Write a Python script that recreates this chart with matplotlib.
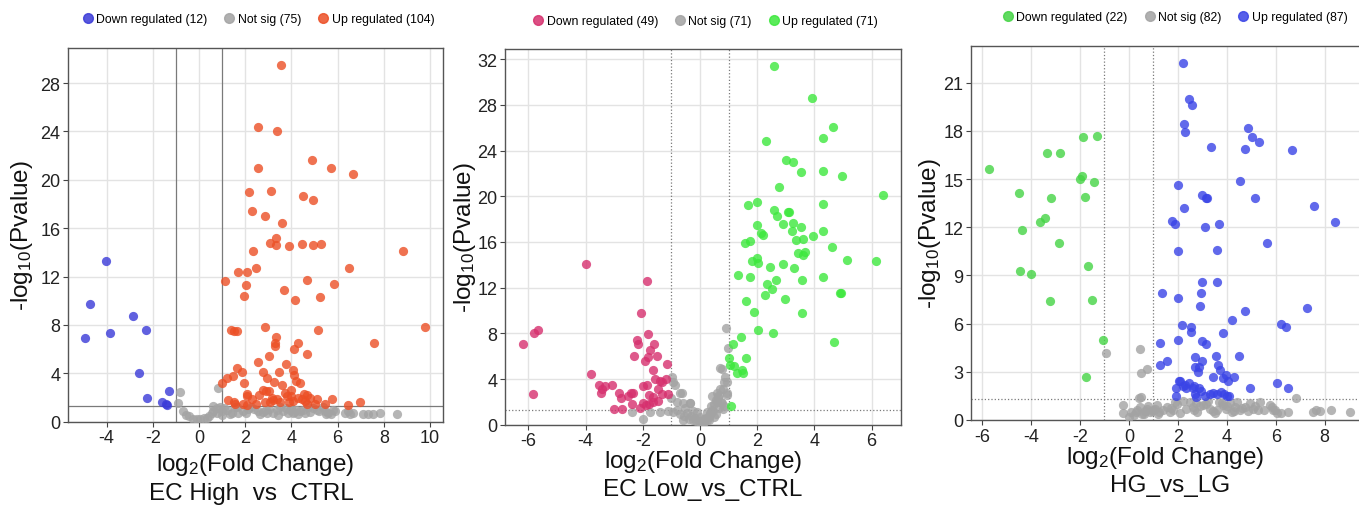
import matplotlib
matplotlib.use('Agg')
import matplotlib.pyplot as plt
from matplotlib.lines import Line2D

plt.rcParams['font.family'] = ['Liberation Sans', 'DejaVu Sans']
plt.rcParams['mathtext.default'] = 'regular'
plt.rcParams['axes.unicode_minus'] = False

# ---- panel 1 : EC High vs CTRL ----
down1_x = [-4.03, -4.72, -2.84, -4.95, -3.85, -2.31, -2.58, -2.25, -1.30, -1.62, -1.44, -1.37]
down1_y = [13.3, 9.7, 8.7, 6.9, 7.3, 7.6, 4.0, 1.95, 2.5, 1.65, 1.45, 1.4]

up1_x = [3.54, 2.54, 3.39, 2.54, 4.89, 5.70, 6.65, 2.15, 3.10, 4.50, 4.95, 2.28, 2.84, 3.61,
         3.35, 3.07, 3.33, 3.88, 4.47, 4.92, 5.30, 2.34, 8.82, 1.11, 1.67, 2.08, 2.48, 2.02, 1.93,
         3.68, 4.17, 4.66, 5.24, 5.83, 6.48,
         1.40, 1.50, 1.66, 2.84, 5.17, 9.80, 3.32, 3.28, 3.30, 4.27, 4.13, 4.68, 7.56, 3.03, 2.54,
         3.75, 1.66, 1.88, 2.75, 3.45, 4.08, 4.13, 1.20, 1.49, 1.01, 1.96, 3.25, 3.58, 4.20, 4.36,
         2.76, 2.89, 3.04, 2.06, 2.09, 3.71, 3.80, 4.53, 4.66, 3.97, 1.24, 1.52, 2.47, 2.86, 3.07,
         3.22, 3.36, 4.08, 4.30, 4.44, 4.81, 5.09, 5.76, 6.46, 6.98, 5.45, 1.56, 2.06, 3.51, 4.66,
         1.90, 2.30, 2.60, 3.15, 3.90, 4.00, 4.60, 5.00, 2.95]
up1_y = [29.5, 24.4, 24.0, 21.0, 21.6, 21.0, 20.5, 19.0, 19.1, 18.7, 18.3, 17.4, 17.0, 16.4,
         15.2, 14.8, 14.6, 14.5, 14.7, 14.6, 14.7, 14.1, 14.1, 11.6, 12.4, 12.4, 12.7, 11.3, 10.4,
         10.9, 10.1, 11.7, 10.3, 11.4, 12.7,
         7.6, 7.5, 7.5, 7.8, 7.6, 7.8, 7.0, 6.5, 6.3, 6.5, 6.0, 5.6, 6.5, 5.4, 4.9,
         4.8, 4.4, 4.1, 4.1, 4.1, 4.3, 3.9, 3.6, 3.8, 3.2, 3.2, 3.3, 3.0, 3.4, 3.2,
         2.6, 2.5, 2.5, 2.3, 2.1, 2.4, 2.1, 2.3, 2.2, 2.1, 1.8, 1.6, 1.5, 1.6, 1.6,
         1.8, 1.85, 1.7, 2.0, 1.85, 2.0, 1.9, 1.85, 1.4, 1.65, 1.5, 1.5, 1.4, 1.65, 1.5,
         1.5, 1.9, 2.2, 2.0, 1.6, 2.6, 1.7, 1.5, 3.6]

ns1_x = [-0.82, 0.84, -0.89, -0.68, -0.56, -0.25, 0.04, 0.33, 0.62, 0.76, 0.98, 1.34, 0.62, 0.91,
         1.70, 2.14, 2.38, 2.78, 2.93, 3.36, 3.65, 3.94, 4.11, 4.37, 4.81, 5.09, 5.45, 5.60, 5.82,
         6.46, 6.68, 7.11, 7.33, 7.55, 7.84, 8.56,
         -0.45, -0.1, 0.2, 0.45, 0.55, 0.8, 1.1, 1.2, 1.45, 1.55, 1.9, 2.05, 2.25, 2.55, 2.65, 3.05,
         3.2, 3.5, 3.75, 3.85, 4.0, 4.2, 4.3, 4.5, 4.6, 4.95, 5.2, 5.35, 5.7, 5.9, 6.3, 6.55, 1.0,
         1.65, 2.9, 3.4, 4.05, 4.7, 5.5]
ns1_y = [2.46, 2.8, 1.57, 0.88, 0.55, 0.25, 0.19, 0.33, 0.88, 0.69, 0.88, 0.61, 1.3, 1.25,
         0.75, 1.02, 1.02, 0.8, 0.75, 1.0, 0.88, 1.0, 0.8, 0.88, 0.8, 1.0, 0.88, 0.75, 1.0,
         0.88, 0.75, 0.6, 0.6, 0.6, 0.75, 0.6,
         0.5, 0.2, 0.3, 0.45, 0.7, 1.1, 1.15, 0.95, 0.7, 1.2, 0.9, 0.7, 1.2, 0.85, 0.65, 1.05,
         0.7, 1.2, 1.1, 0.7, 1.15, 0.95, 0.6, 1.0, 0.75, 1.1, 0.9, 1.2, 0.65, 0.9, 0.7, 0.65, 0.55,
         1.25, 0.95, 0.55, 0.75, 1.2, 0.6]

# ---- panel 2 : EC Low vs CTRL ----
down2_x = [-3.99, -1.86, -2.07, -6.20, -5.80, -5.65, -5.85, -3.82, -2.19, -2.18,
           -1.81, -1.61, -1.75, -1.83, -2.31, -1.92, -1.52, -1.15, -1.63, -1.57,
           -1.20, -1.34, -1.40, -1.86, -1.98, -1.46, -1.32, -1.11, -1.77, -1.63,
           -1.48, -1.98, -1.77, -1.65, -1.89, -3.55, -3.44, -3.32, -3.47, -3.07,
           -2.82, -2.76, -2.42, -2.36, -2.51, -2.37, -3.00, -2.74, -2.09]
down2_y = [14.1, 12.6, 9.8, 7.1, 8.0, 8.3, 2.7, 4.4, 7.4, 7.1,
           7.9, 7.1, 6.5, 5.9, 6.0, 5.6, 6.0, 5.3, 4.8, 4.0,
           4.0, 3.7, 3.8, 3.5, 3.4, 3.1, 2.7, 2.7, 2.6, 2.4,
           2.1, 1.9, 1.8, 2.0, 1.7, 3.5, 3.1, 3.4, 2.8, 3.5,
           2.8, 2.3, 2.8, 2.8, 2.5, 1.8, 1.4, 1.4, 1.5]

up2_x = [2.59, 3.90, 4.64, 4.31, 2.32, 3.00, 3.24, 3.53, 4.29, 4.98, 2.75, 6.39, 1.69, 1.99,
         2.59, 2.70, 3.09, 3.12, 4.29, 1.98, 2.13, 2.21, 2.91, 3.24, 3.20, 3.52, 4.30, 3.34,
         3.59, 3.96, 1.56, 1.75, 4.60,
         3.44, 3.61, 3.67, 1.81, 2.00, 2.04, 2.45, 2.89, 3.29, 3.55, 4.30, 5.13, 6.15, 1.32,
         1.75, 2.35, 2.51, 2.66, 2.27, 2.97, 4.90, 4.93, 1.60, 1.89, 3.55, 2.02, 2.54, 4.67,
         1.42, 1.17, 1.01, 1.05, 1.20, 1.46, 1.28, 1.52, 1.60, 1.07]
up2_y = [31.4, 28.6, 26.1, 25.1, 24.8, 23.2, 23.0, 22.1, 22.2, 21.8, 20.8, 20.1, 19.2, 19.5,
         18.8, 18.3, 18.6, 18.6, 19.3, 17.5, 16.8, 16.6, 17.6, 17.7, 17.0, 17.3, 17.0, 16.2,
         16.3, 16.5, 15.9, 16.1, 15.6,
         15.0, 14.9, 15.1, 14.3, 14.6, 14.2, 13.8, 14.1, 13.7, 12.7, 12.9, 14.4, 14.3, 13.1,
         12.9, 12.3, 11.9, 12.7, 11.4, 11.0, 11.5, 11.5, 10.8, 9.9, 9.8, 8.3, 8.0, 7.2,
         7.7, 7.1, 5.8, 5.2, 5.1, 4.8, 4.5, 4.5, 5.8, 1.6]

ns2_x = [-2.37, -1.98, -1.75, -1.40, -1.11, -0.97, -0.94, -0.87, -0.82, -0.70,
         -0.64, -0.59, -0.52, -0.45, -0.35, -0.30, -0.24, -0.18, -0.12, -0.05,
         0.0, 0.05, 0.10, 0.15, 0.20, 0.24, 0.30, 0.35, 0.40, 0.42,
         0.45, 0.50, 0.55, 0.59, 0.62, 0.66, 0.70, 0.72, 0.76, 0.80,
         0.84, 0.88, 0.90, 0.94, 0.97, 0.70, 0.76, 0.59, 0.80, 0.94,
         -0.94, -0.70, -0.59, -0.35, -0.24, 0.0, 0.24, 0.42, 0.55, 0.65,
         0.85, -0.80, -0.55, -0.40, -0.15, 0.10, 0.33, 0.48, -1.0, 0.95, 0.35]
ns2_y = [1.1, 0.5, 1.1, 1.1, 1.2, 4.2, 3.7, 3.5, 2.0, 2.8,
         2.8, 1.9, 1.5, 1.0, 1.9, 0.8, 0.44, 0.6, 1.1, 0.35,
         0.2, 0.3, 0.5, 0.25, 0.6, 0.44, 0.7, 0.9, 1.6, 2.5,
         1.2, 1.8, 2.2, 2.8, 2.4, 2.6, 3.1, 2.0, 1.9, 3.1,
         3.7, 4.2, 8.45, 3.7, 6.7, 5.0, 4.9, 2.0, 1.4, 2.8,
         1.1, 0.9, 0.44, 1.9, 1.2, 0.7, 1.1, 1.3, 0.9, 1.5,
         1.6, 1.3, 0.8, 0.5, 0.3, 0.15, 0.4, 0.7, 2.3, 2.6, 1.0]

# ---- panel 3 : HG vs LG ----
down3_x = [-5.70, -4.49, -4.37, -3.62, -3.41, -3.36, -2.82, -3.20, -2.86, -1.89, -1.32,
           -2.00, -1.92, -1.44, -1.78, -4.44, -3.99, -3.22, -1.67, -1.51, -1.06, -1.77]
down3_y = [15.6, 14.1, 11.8, 12.3, 12.6, 16.6, 16.6, 13.8, 11.0, 17.6, 17.7,
           15.0, 15.2, 14.8, 13.9, 9.3, 9.1, 7.4, 9.6, 7.5, 5.0, 2.7]

up3_x = [2.22, 2.46, 2.56, 2.24, 2.31, 3.36, 4.87, 4.73, 5.01, 5.32, 6.67, 4.53, 2.01, 2.99,
         3.13, 3.21, 5.14, 7.55, 2.26, 1.76, 1.90, 3.09, 3.67, 8.41, 5.66,
         2.01, 3.61, 2.99, 2.94, 2.90, 3.61, 1.36, 2.01, 4.73, 7.28, 4.22, 6.23, 6.41, 2.18,
         2.53, 2.53, 3.86, 2.01, 2.97, 3.14, 1.27, 2.69, 2.99, 3.55, 4.50, 1.56, 1.29, 2.72,
         2.86, 2.82, 3.63, 3.71, 3.96, 4.29, 3.44, 4.05, 6.03, 4.95, 6.50, 1.92, 1.92,
         2.10, 2.20, 2.35, 2.45, 2.60, 2.70, 2.85, 2.95, 3.10, 3.45, 3.60, 3.75, 3.90, 4.10,
         2.30, 2.65, 3.30, 3.85, 2.05, 2.75, 4.00]
up3_y = [22.2, 20.0, 19.6, 18.4, 17.9, 17.0, 18.2, 16.9, 17.6, 17.3, 16.8, 14.9, 14.6, 14.0,
         13.8, 13.8, 13.8, 13.3, 13.2, 12.4, 12.2, 12.0, 12.2, 12.3, 11.0,
         10.5, 10.6, 8.6, 7.9, 7.1, 8.6, 7.9, 7.6, 6.8, 7.0, 6.2, 6.0, 5.8, 5.9,
         5.8, 5.5, 5.4, 5.0, 4.9, 4.7, 4.8, 3.9, 3.7, 4.0, 4.0, 3.7, 3.4, 3.3,
         3.3, 3.0, 3.4, 3.1, 2.8, 2.7, 2.7, 2.4, 2.3, 2.0, 2.0, 2.0, 1.5,
         2.4, 2.1, 2.0, 2.3, 2.0, 1.6, 2.0, 1.8, 1.5, 1.7, 1.6, 1.75, 1.6, 1.5,
         2.2, 2.1, 1.6, 2.6, 2.4, 1.45, 1.5]

ns3_x = [-0.93, 0.46, 0.49, 0.72, 0.42, 0.49, 6.82, 5.35, 9.05, 8.27, 7.66, 7.52, 6.50, 5.96, 5.86,
         -0.23, -0.23, 0.0, 0.1, 0.3, 0.45, 0.6, 0.72, 0.86, 1.13, 1.4, 1.67, 1.95, 2.35, 2.76,
         3.03, 3.3, 3.58, 3.85, 4.12, 4.33, 4.53, 4.73, 4.94, 5.07, 5.28, 5.76, 6.03, 5.89,
         0.2, 0.35, 0.55, 0.8, 0.95, 1.05, 1.25, 1.55, 1.8, 2.1, 2.5, 2.65, 2.9, 3.15, 3.45,
         3.7, 3.95, 4.2, 4.4, 4.6, 4.85, 5.15, 5.5, 1.2, 1.7, 2.2, 2.8, 3.25, 3.8, 4.3, 4.0,
         3.5, 2.6, 1.9, 1.0, 0.65, 7.8, 6.2]
ns3_y = [4.2, 4.4, 2.9, 3.2, 1.35, 1.45, 1.35, 1.15, 0.5, 0.6, 0.6, 0.5, 0.5, 0.6, 0.8,
         0.94, 0.46, 0.2, 0.5, 0.5, 0.8, 0.4, 0.7, 0.5, 0.94, 0.6, 0.5, 1.0, 0.7, 1.04,
         0.94, 0.7, 0.6, 0.94, 1.04, 0.8, 0.6, 0.8, 1.04, 0.7, 0.6, 0.94, 0.46, 0.6,
         0.3, 0.6, 0.35, 0.9, 0.55, 0.7, 0.5, 0.8, 0.65, 0.45, 1.1, 0.6, 0.85, 1.0, 0.55,
         1.15, 0.7, 0.5, 1.1, 0.75, 0.55, 0.9, 0.65, 0.4, 0.75, 1.2, 0.5, 1.2, 1.05, 0.55,
         0.85, 0.45, 0.8, 1.15, 0.6, 0.55, 0.55, 0.45]

GRAY = '#a3a3a3'

panels = [
    dict(pos=[0.050, 0.1646, 0.2758, 0.7386], xlim=(-5.67, 10.55), ylim=(0, 30.9),
         xticks=range(-4, 11, 2), yticks=range(0, 29, 4),
         down=(down1_x, down1_y, '#3a3ad8'), up=(up1_x, up1_y, '#ec4f25'),
         ns=(ns1_x, ns1_y), ls='-', name='EC High  vs  CTRL',
         ylab_x=-0.123, xlab_y=-0.112, sub_y=-0.19, sub_x=0.49, leg=(0.507, 1.078)),
    dict(pos=[0.3716, 0.1587, 0.2914, 0.7425], xlim=(-6.82, 7.03), ylim=(0, 32.9),
         xticks=range(-6, 7, 2), yticks=range(0, 33, 4),
         down=(down2_x, down2_y, '#d6306e'), up=(up2_x, up2_y, '#3de83d'),
         ns=(ns2_x, ns2_y), ls=':', name='EC Low_vs_CTRL',
         ylab_x=-0.10, xlab_y=-0.097, sub_y=-0.17, sub_x=0.5, leg=(0.505, 1.075)),
    dict(pos=[0.7145, 0.168, 0.2855, 0.7397], xlim=(-6.45, 9.4), ylim=(0, 23.3),
         xticks=range(-6, 9, 2), yticks=range(0, 22, 3),
         down=(down3_x, down3_y, '#45d445'), up=(up3_x, up3_y, '#3a44e6'),
         ns=(ns3_x, ns3_y), ls=':', name='HG_vs_LG',
         ylab_x=-0.106, xlab_y=-0.1, sub_y=-0.173, sub_x=0.513, leg=(0.525, 1.077)),
]

fig = plt.figure(figsize=(13.59, 5.06), dpi=100)

for i, p in enumerate(panels):
    ax = fig.add_axes(p['pos'])
    dx, dy, dcol = p['down']
    ux, uy, ucol = p['up']
    nx, ny = p['ns']
    ax.scatter(nx, ny, s=44, color=GRAY, alpha=0.8, linewidths=0, zorder=3)
    ax.scatter(dx, dy, s=44, color=dcol, alpha=0.8, linewidths=0, zorder=3)
    ax.scatter(ux, uy, s=44, color=ucol, alpha=0.8, linewidths=0, zorder=3)

    # thresholds: |log2FC| = 1, p = 0.05
    ax.axvline(-1, color='#7a7a7a', lw=0.9, ls=p['ls'], zorder=2)
    ax.axvline(1, color='#7a7a7a', lw=0.9, ls=p['ls'], zorder=2)
    ax.axhline(1.301, color='#7a7a7a', lw=0.9, ls=p['ls'], zorder=2)

    ax.set_xlim(*p['xlim'])
    ax.set_ylim(*p['ylim'])
    ax.set_xticks(list(p['xticks']))
    ax.set_yticks(list(p['yticks']))
    ax.grid(True, color='#e3e3e3', lw=1, zorder=0)
    ax.set_axisbelow(True)
    ax.tick_params(labelsize=13, length=3.5, width=0.8, color='#444444',
                   labelcolor='#222222', pad=2)
    for side in ['left', 'bottom', 'top', 'right']:
        ax.spines[side].set_color('#555555')
        ax.spines[side].set_linewidth(1.0)
    if i == 2:
        ax.spines['right'].set_visible(False)

    ax.text(p['ylab_x'], 0.5, '-log$_{10}$(Pvalue)', transform=ax.transAxes,
            rotation=90, ha='center', va='center', fontsize=17.5, color='#111111')
    ax.text(0.5, p['xlab_y'], 'log$_2$(Fold Change)', transform=ax.transAxes,
            ha='center', va='center', fontsize=17.5, color='#111111')
    ax.text(p['sub_x'], p['sub_y'], p['name'], transform=ax.transAxes,
            ha='center', va='center', fontsize=17.5, color='#111111')

    handles = [
        Line2D([], [], ls='', marker='o', ms=7, color=dcol, alpha=0.85),
        Line2D([], [], ls='', marker='o', ms=7, color=GRAY, alpha=0.85),
        Line2D([], [], ls='', marker='o', ms=7, color=ucol, alpha=0.85),
    ]
    labels = ['Down regulated (%d)' % len(dx), 'Not sig (%d)' % len(nx),
              'Up regulated (%d)' % len(ux)]
    ax.legend(handles, labels, loc='center', bbox_to_anchor=p['leg'], ncol=3,
              frameon=False, fontsize=8.8, handletextpad=0.2, columnspacing=1.3,
              handlelength=1.0, borderaxespad=0)

fig.savefig('out.png', dpi=100)
